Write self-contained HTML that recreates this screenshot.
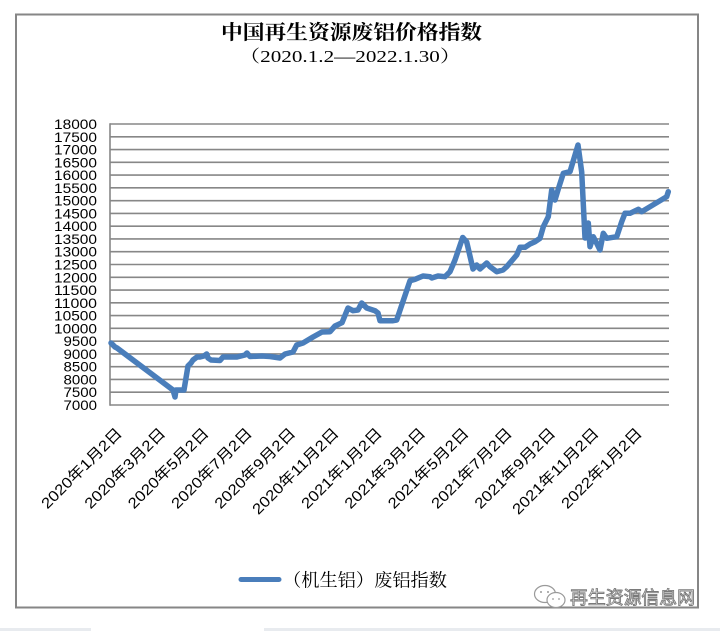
<!DOCTYPE html>
<html>
<head>
<meta charset="utf-8">
<style>
html,body{margin:0;padding:0;background:#fff;}
svg{display:block;}
</style>
</head>
<body>
<svg width="720" height="631" viewBox="0 0 720 631" xmlns="http://www.w3.org/2000/svg">
<rect x="0" y="0" width="720" height="631" fill="#ffffff"/>
<!-- bottom strips -->
<rect x="0" y="628" width="91" height="3" fill="#e8ebef"/>
<rect x="264" y="628" width="456" height="3" fill="#e8ebef"/>
<!-- frame -->
<rect x="16" y="14.5" width="682" height="593" fill="none" stroke="#868686" stroke-width="2"/>

<!-- title -->
<text x="351.5" y="39" text-anchor="middle" font-family="'Noto Serif CJK SC','Noto Sans CJK SC',serif" font-weight="700" font-size="20" textLength="261" lengthAdjust="spacingAndGlyphs" fill="#000">中国再生资源废铝价格指数</text>
<text x="350" y="62" text-anchor="middle" font-family="'Liberation Serif','Noto Serif CJK SC',serif" font-size="17" textLength="222" lengthAdjust="spacingAndGlyphs" fill="#000">（2020.1.2—2022.1.30）</text>

<!-- gridlines -->
<g stroke="#878787" stroke-width="1.6">
<line x1="110" y1="405" x2="669" y2="405"/>
<line x1="110" y1="392.23" x2="669" y2="392.23"/>
<line x1="110" y1="379.45" x2="669" y2="379.45"/>
<line x1="110" y1="366.68" x2="669" y2="366.68"/>
<line x1="110" y1="353.91" x2="669" y2="353.91"/>
<line x1="110" y1="341.14" x2="669" y2="341.14"/>
<line x1="110" y1="328.36" x2="669" y2="328.36"/>
<line x1="110" y1="315.59" x2="669" y2="315.59"/>
<line x1="110" y1="302.82" x2="669" y2="302.82"/>
<line x1="110" y1="290.05" x2="669" y2="290.05"/>
<line x1="110" y1="277.27" x2="669" y2="277.27"/>
<line x1="110" y1="264.5" x2="669" y2="264.5"/>
<line x1="110" y1="251.73" x2="669" y2="251.73"/>
<line x1="110" y1="238.95" x2="669" y2="238.95"/>
<line x1="110" y1="226.18" x2="669" y2="226.18"/>
<line x1="110" y1="213.41" x2="669" y2="213.41"/>
<line x1="110" y1="200.64" x2="669" y2="200.64"/>
<line x1="110" y1="187.86" x2="669" y2="187.86"/>
<line x1="110" y1="175.09" x2="669" y2="175.09"/>
<line x1="110" y1="162.32" x2="669" y2="162.32"/>
<line x1="110" y1="149.55" x2="669" y2="149.55"/>
<line x1="110" y1="136.77" x2="669" y2="136.77"/>
<line x1="110" y1="124" x2="669" y2="124"/>
<line x1="110" y1="123.2" x2="110" y2="405.8"/>
</g>

<!-- y labels -->
<g font-family="'Liberation Sans',sans-serif" font-size="14" fill="#000" text-anchor="end">
<text x="97" y="410" textLength="33.5" lengthAdjust="spacingAndGlyphs">7000</text>
<text x="97" y="397.23" textLength="33.5" lengthAdjust="spacingAndGlyphs">7500</text>
<text x="97" y="384.45" textLength="33.5" lengthAdjust="spacingAndGlyphs">8000</text>
<text x="97" y="371.68" textLength="33.5" lengthAdjust="spacingAndGlyphs">8500</text>
<text x="97" y="358.91" textLength="33.5" lengthAdjust="spacingAndGlyphs">9000</text>
<text x="97" y="346.14" textLength="33.5" lengthAdjust="spacingAndGlyphs">9500</text>
<text x="97" y="333.36" textLength="43" lengthAdjust="spacingAndGlyphs">10000</text>
<text x="97" y="320.59" textLength="43" lengthAdjust="spacingAndGlyphs">10500</text>
<text x="97" y="307.82" textLength="43" lengthAdjust="spacingAndGlyphs">11000</text>
<text x="97" y="295.05" textLength="43" lengthAdjust="spacingAndGlyphs">11500</text>
<text x="97" y="282.27" textLength="43" lengthAdjust="spacingAndGlyphs">12000</text>
<text x="97" y="269.5" textLength="43" lengthAdjust="spacingAndGlyphs">12500</text>
<text x="97" y="256.73" textLength="43" lengthAdjust="spacingAndGlyphs">13000</text>
<text x="97" y="243.95" textLength="43" lengthAdjust="spacingAndGlyphs">13500</text>
<text x="97" y="231.18" textLength="43" lengthAdjust="spacingAndGlyphs">14000</text>
<text x="97" y="218.41" textLength="43" lengthAdjust="spacingAndGlyphs">14500</text>
<text x="97" y="205.64" textLength="43" lengthAdjust="spacingAndGlyphs">15000</text>
<text x="97" y="192.86" textLength="43" lengthAdjust="spacingAndGlyphs">15500</text>
<text x="97" y="180.09" textLength="43" lengthAdjust="spacingAndGlyphs">16000</text>
<text x="97" y="167.32" textLength="43" lengthAdjust="spacingAndGlyphs">16500</text>
<text x="97" y="154.55" textLength="43" lengthAdjust="spacingAndGlyphs">17000</text>
<text x="97" y="141.77" textLength="43" lengthAdjust="spacingAndGlyphs">17500</text>
<text x="97" y="129" textLength="43" lengthAdjust="spacingAndGlyphs">18000</text>
</g>

<!-- x labels -->
<g font-family="'Liberation Sans','Noto Sans CJK SC',sans-serif" font-size="15" fill="#000" text-anchor="end">
<text x="123" y="434" transform="rotate(-45 123 434)" textLength="107" lengthAdjust="spacingAndGlyphs">2020年1月2日</text>
<text x="166.33" y="434" transform="rotate(-45 166.33 434)" textLength="107" lengthAdjust="spacingAndGlyphs">2020年3月2日</text>
<text x="209.67" y="434" transform="rotate(-45 209.67 434)" textLength="107" lengthAdjust="spacingAndGlyphs">2020年5月2日</text>
<text x="253" y="434" transform="rotate(-45 253 434)" textLength="107" lengthAdjust="spacingAndGlyphs">2020年7月2日</text>
<text x="296.33" y="434" transform="rotate(-45 296.33 434)" textLength="107" lengthAdjust="spacingAndGlyphs">2020年9月2日</text>
<text x="339.67" y="434" transform="rotate(-45 339.67 434)" textLength="115" lengthAdjust="spacingAndGlyphs">2020年11月2日</text>
<text x="383" y="434" transform="rotate(-45 383 434)" textLength="107" lengthAdjust="spacingAndGlyphs">2021年1月2日</text>
<text x="426.33" y="434" transform="rotate(-45 426.33 434)" textLength="107" lengthAdjust="spacingAndGlyphs">2021年3月2日</text>
<text x="469.67" y="434" transform="rotate(-45 469.67 434)" textLength="107" lengthAdjust="spacingAndGlyphs">2021年5月2日</text>
<text x="513" y="434" transform="rotate(-45 513 434)" textLength="107" lengthAdjust="spacingAndGlyphs">2021年7月2日</text>
<text x="556.33" y="434" transform="rotate(-45 556.33 434)" textLength="107" lengthAdjust="spacingAndGlyphs">2021年9月2日</text>
<text x="599.67" y="434" transform="rotate(-45 599.67 434)" textLength="115" lengthAdjust="spacingAndGlyphs">2021年11月2日</text>
<text x="643" y="434" transform="rotate(-45 643 434)" textLength="107" lengthAdjust="spacingAndGlyphs">2022年1月2日</text>
</g>

<!-- data line -->
<polyline fill="none" stroke="#4a7ebb" stroke-width="5.5" stroke-linejoin="round" stroke-linecap="round" points="
111,343 115,347 117,348 173,390 175,397 176,390 184,390 188,366 191,363 193,360 197,357 200,357 204,356 206.7,354 208,358 211,360 220,360.5 223,357 237,357 245,355 247,353 250,356.5 262,356 270,356.5 280,358
285,354 293,352 296.7,345 303,343 313,337 322,332 330,331.7 335,326 342,322.7 348,308 353,310.7 358,310 361.7,303 366.7,308 375,310.7 378,313 380,320.7 393,320.7 396.7,320 410,280.7 415,279.3 423,276 430,276.7
431.7,278 438,276 445,276.7 450,271.7 455,260 462.7,237.5 466.7,242 473,269 476.7,265 480,269 486.7,263 490,266.7 496.7,271.7 503,270 506.7,266.7 516.7,255 520,247.3 525,247.3 530,244 535,241.7 540,238.3 543.3,226.7 548.3,216.7 551.7,190 555,200 558.3,189 563.3,173.3 570,171.7 578,145 581.7,172 585,238 588.3,223 590,246.7 593.3,236.7 596.7,243.3 600,250 603.3,233.3 606.7,238.3 616.7,236.7 621.7,221.7 625,213.3 630,213.3 638.3,209.3 641.7,211.7 666.7,196.7 668.3,191.7"/>

<!-- legend -->
<line x1="241" y1="579.5" x2="279" y2="579.5" stroke="#4a7ebb" stroke-width="5" stroke-linecap="round"/>
<text x="283" y="586.5" font-family="'Noto Serif CJK SC','Noto Sans CJK SC',serif" font-size="18" textLength="164" lengthAdjust="spacingAndGlyphs" fill="#000">（机生铝）废铝指数</text>

<!-- watermark -->
<g fill="#fff" stroke="#9a9a9a" stroke-width="1.2">
<ellipse cx="545" cy="594" rx="10.5" ry="8.5"/>
<ellipse cx="556" cy="600" rx="9" ry="7.5"/>
</g>
<g fill="#9a9a9a">
<circle cx="541" cy="592" r="1"/>
<circle cx="548" cy="592" r="1"/>
<circle cx="553" cy="599" r="0.9"/>
<circle cx="559" cy="599" r="0.9"/>
</g>
<text x="570" y="604" font-family="'Noto Sans CJK SC',sans-serif" font-size="18" textLength="125" lengthAdjust="spacingAndGlyphs" fill="#ffffff" stroke="#7a7a7a" stroke-width="0.9">再生资源信息网</text>
</svg>
</body>
</html>
